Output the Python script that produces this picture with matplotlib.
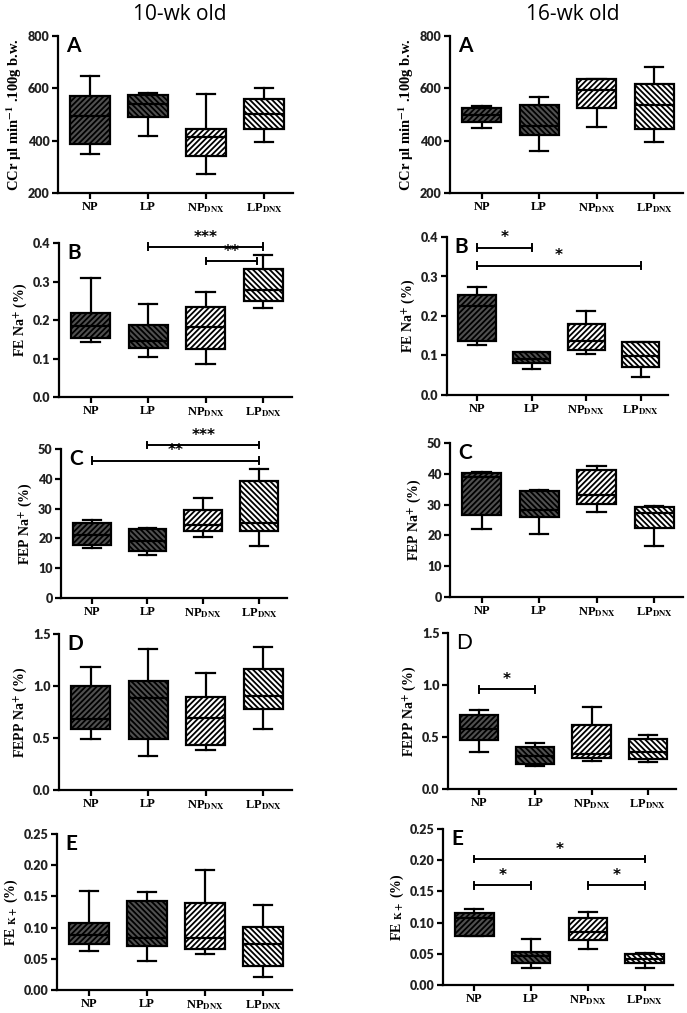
import matplotlib
matplotlib.use("Agg")
import matplotlib.pyplot as plt
import numpy as np

plt.rcParams['mathtext.fontset'] = 'stix'
plt.rcParams['hatch.linewidth'] = 1.3

groups = ['NP', 'LP', 'NP$_{\\mathbf{DNX}}$', 'LP$_{\\mathbf{DNX}}$']

# ---- 10-wk old ----
A10_lo = [348, 417, 271, 395]
A10_q1 = [386, 489, 342, 446]
A10_med = [494, 540, 414, 501]
A10_q3 = [570, 574, 446, 559]
A10_hi = [647, 584, 580, 601]

B10_lo = [0.142, 0.105, 0.086, 0.232]
B10_q1 = [0.154, 0.128, 0.124, 0.249]
B10_med = [0.184, 0.145, 0.181, 0.279]
B10_q3 = [0.219, 0.187, 0.234, 0.332]
B10_hi = [0.310, 0.241, 0.272, 0.368]

C10_lo = [16.8, 14.5, 20.5, 17.6]
C10_q1 = [17.7, 15.7, 22.6, 22.6]
C10_med = [21.3, 19.0, 24.6, 25.2]
C10_q3 = [25.2, 23.3, 29.6, 39.4]
C10_hi = [26.1, 23.4, 33.6, 43.3]

D10_lo = [0.49, 0.33, 0.38, 0.59]
D10_q1 = [0.59, 0.49, 0.43, 0.78]
D10_med = [0.68, 0.88, 0.69, 0.90]
D10_q3 = [1.00, 1.045, 0.89, 1.16]
D10_hi = [1.18, 1.36, 1.125, 1.375]

E10_lo = [0.062, 0.046, 0.058, 0.021]
E10_q1 = [0.074, 0.071, 0.066, 0.039]
E10_med = [0.088, 0.083, 0.083, 0.073]
E10_q3 = [0.107, 0.143, 0.140, 0.101]
E10_hi = [0.159, 0.157, 0.192, 0.137]

# ---- 16-wk old ----
A16_lo = [450, 361, 454, 393]
A16_q1 = [472, 421, 523, 444]
A16_med = [500, 455, 593, 536]
A16_q3 = [523, 536, 635, 615]
A16_hi = [534, 566, 635, 681]

B16_lo = [0.126, 0.065, 0.105, 0.046]
B16_q1 = [0.136, 0.080, 0.114, 0.072]
B16_med = [0.225, 0.090, 0.137, 0.099]
B16_q3 = [0.254, 0.110, 0.179, 0.133]
B16_hi = [0.274, 0.110, 0.212, 0.135]

C16_lo = [22.1, 20.4, 27.7, 16.4]
C16_q1 = [26.6, 26.1, 30.1, 22.3]
C16_med = [38.8, 28.4, 33.1, 27.2]
C16_q3 = [40.1, 34.4, 41.2, 29.1]
C16_hi = [40.6, 34.7, 42.5, 29.5]

D16_lo = [0.36, 0.22, 0.27, 0.26]
D16_q1 = [0.468, 0.237, 0.295, 0.287]
D16_med = [0.574, 0.317, 0.34, 0.36]
D16_q3 = [0.71, 0.40, 0.615, 0.478]
D16_hi = [0.756, 0.44, 0.79, 0.516]

E16_lo = [0.078, 0.028, 0.057, 0.028]
E16_q1 = [0.079, 0.036, 0.072, 0.036]
E16_med = [0.107, 0.047, 0.085, 0.041]
E16_q3 = [0.115, 0.0535, 0.108, 0.050]
E16_hi = [0.122, 0.074, 0.117, 0.052]

# significance brackets: (from group, to group, y, label)
B10_sig = [(2, 4, 0.390, '***'), (3, 3.9, 0.353, '**')]
C10_sig = [(2, 4, 51.3, '***'), (1, 4, 46.1, '**')]
B16_sig = [(1, 2, 0.373, '*'), (1, 4, 0.327, '*')]
D16_sig = [(1, 2, 0.958, '*')]
E16_sig = [(1, 4, 0.202, '*'), (1, 2, 0.160, '*'), (3, 4, 0.160, '*')]

ylabels = ['CCr μl min$^{\\mathbf{-1}}$ .100g b.w.', 'FE Na$^{\\mathbf{+}}$ (%)',
           'FEP Na$^{\\mathbf{+}}$ (%)', 'FEPP Na$^{\\mathbf{+}}$ (%)', 'FE $_{\\mathbf{K+}}$ (%)']
ylabel_sizes = [10.5, 10, 10, 10, 10]
letters = ['A', 'B', 'C', 'D', 'E']
yticks = [[200, 400, 600, 800], [0, 0.1, 0.2, 0.3, 0.4], [0, 10, 20, 30, 40, 50],
          [0, 0.5, 1.0, 1.5], [0, 0.05, 0.10, 0.15, 0.20, 0.25]]
ytlabels = [['200', '400', '600', '800'], ['0.0', '0.1', '0.2', '0.3', '0.4'],
            ['0', '10', '20', '30', '40', '50'], ['0.0', '0.5', '1.0', '1.5'],
            ['0.00', '0.05', '0.10', '0.15', '0.20', '0.25']]

fills = ['#505050', '#505050', 'white', 'white']
hatches = ['//////', '\\\\\\\\\\\\', '//////', '\\\\\\\\\\\\']

W, H = 687, 1013
fig = plt.figure(figsize=(W / 100, H / 100), dpi=100)

# pixel boxes (left, top, right, bottom)
left_boxes = [(58, 36, 293, 193), (59, 243, 292, 397), (61, 449, 287, 598),
              (59, 634, 292, 790), (57, 834, 292, 990)]
right_boxes = [(450, 36, 683, 193), (447, 237, 668, 395), (450, 443, 683, 597),
               (448, 633, 676, 789), (443, 829, 673, 985)]

data10 = [(A10_lo, A10_q1, A10_med, A10_q3, A10_hi),
          (B10_lo, B10_q1, B10_med, B10_q3, B10_hi),
          (C10_lo, C10_q1, C10_med, C10_q3, C10_hi),
          (D10_lo, D10_q1, D10_med, D10_q3, D10_hi),
          (E10_lo, E10_q1, E10_med, E10_q3, E10_hi)]
data16 = [(A16_lo, A16_q1, A16_med, A16_q3, A16_hi),
          (B16_lo, B16_q1, B16_med, B16_q3, B16_hi),
          (C16_lo, C16_q1, C16_med, C16_q3, C16_hi),
          (D16_lo, D16_q1, D16_med, D16_q3, D16_hi),
          (E16_lo, E16_q1, E16_med, E16_q3, E16_hi)]
sig10 = [[], B10_sig, C10_sig, [], []]
sig16 = [[], B16_sig, [], D16_sig, E16_sig]

lw = 1.6
serif = 'Liberation Serif'
sans = 'Lato'


def make_panel(box, data, sigs, k, letter_bold=True):
    l, t, r, b = box
    ax = fig.add_axes([l / W, 1 - b / H, (r - l) / W, (b - t) / H])
    lo, q1, med, q3, hi = data
    stats = []
    for i in range(4):
        stats.append(dict(whislo=lo[i], q1=q1[i], med=med[i], q3=q3[i], whishi=hi[i], fliers=[]))
    bp = ax.bxp(stats, positions=[1, 2, 3, 4], widths=0.68, patch_artist=True,
                showfliers=False,
                boxprops=dict(linewidth=lw, edgecolor='black'),
                medianprops=dict(color='black', linewidth=lw),
                whiskerprops=dict(color='black', linewidth=lw),
                capprops=dict(color='black', linewidth=lw),
                capwidths=0.32)
    for patch, fc, hh in zip(bp['boxes'], fills, hatches):
        patch.set_facecolor(fc)
        patch.set_hatch(hh)
    ax.set_xlim(0.45, 4.5)
    ax.set_ylim(yticks[k][0], yticks[k][-1])
    ax.set_yticks(yticks[k])
    ax.set_yticklabels(ytlabels[k], fontfamily=sans, fontweight='heavy', fontsize=9, color='#222222')
    ax.set_xticks([1, 2, 3, 4])
    ax.set_xticklabels(groups, fontfamily=serif, fontweight='bold', fontsize=9)
    for s in ['top', 'right']:
        ax.spines[s].set_visible(False)
    for s in ['left', 'bottom']:
        ax.spines[s].set_linewidth(lw)
    ax.tick_params(direction='out', width=lw, length=4, pad=2)
    ax.set_ylabel(ylabels[k], fontfamily=serif, fontweight='bold', fontsize=ylabel_sizes[k], labelpad=3)
    ax.text(0.035, 1.0, letters[k], transform=ax.transAxes, ha='left', va='top',
            fontfamily=sans, fontweight='bold' if letter_bold else 'normal', fontsize=15)
    yr = yticks[k][-1] - yticks[k][0]
    for (x1, x2, y, lab) in sigs:
        ax.plot([x1, x2], [y, y], color='black', lw=1.4, clip_on=False)
        ax.plot([x1, x1], [y - 0.022 * yr, y + 0.022 * yr], color='black', lw=1.4, clip_on=False)
        ax.plot([x2, x2], [y - 0.022 * yr, y + 0.022 * yr], color='black', lw=1.4, clip_on=False)
        ax.text((x1 + x2) / 2, y + 0.015 * yr, lab, ha='center', va='bottom', fontsize=11,
                fontweight='bold', fontfamily='DejaVu Sans', clip_on=False)
    return ax


for k in range(5):
    make_panel(left_boxes[k], data10[k], sig10[k], k)
    make_panel(right_boxes[k], data16[k], sig16[k], k, letter_bold=(k != 3))

fig.text(180 / W, 1 - 14 / H, '10-wk old', ha='center', va='center', fontsize=15, fontfamily='Open Sans')
fig.text(573 / W, 1 - 14 / H, '16-wk old', ha='center', va='center', fontsize=15, fontfamily='Open Sans')

fig.savefig('out.png', dpi=100)
